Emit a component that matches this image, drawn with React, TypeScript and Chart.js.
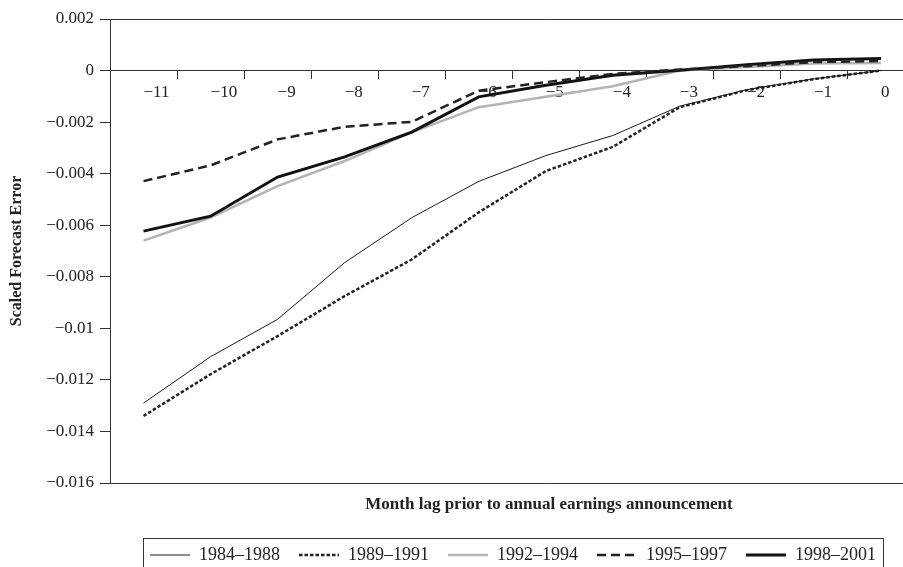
import React, { useEffect, useRef } from 'react';
import { Chart, registerables } from 'chart.js';

Chart.register(...registerables);

const months = [-11, -10, -9, -8, -7, -6, -5, -4, -3, -2, -1, 0];
const seriesLabels = ['1984–1988', '1989–1991', '1992–1994', '1995–1997', '1998–2001'];
const s1984 = [-0.0129, -0.0111, -0.00965, -0.00745, -0.00571, -0.0043, -0.0033, -0.00252, -0.00138, -0.00074, -0.00032, 0.0];
const s1989 = [-0.0134, -0.01178, -0.0103, -0.00875, -0.00733, -0.0055, -0.0039, -0.00296, -0.00142, -0.00076, -0.00033, 0.0];
const s1992 = [-0.0066, -0.0057, -0.00448, -0.00351, -0.0024, -0.00142, -0.00102, -0.00061, 0.0, 0.00014, 0.00027, 0.00029];
const s1995 = [-0.00429, -0.00368, -0.00267, -0.00218, -0.00199, -0.00078, -0.00045, -0.00013, 0.00004, 0.00017, 0.00033, 0.00037];
const s1998 = [-0.00623, -0.00565, -0.00413, -0.00335, -0.00239, -0.00102, -0.00057, -0.00018, 0.00001, 0.00023, 0.00041, 0.00047];
const yTickValues = [0.002, 0, -0.002, -0.004, -0.006, -0.008, -0.01, -0.012, -0.014, -0.016];
const yTitle = 'Scaled Forecast Error';
const xTitle = 'Month lag prior to annual earnings announcement';

const SERIF = "'Liberation Serif', 'DejaVu Serif', serif";
const INK = '#222';
const AXIS = '#333';

const fmt = (v: number) => (v === 0 ? '0' : (v < 0 ? '\u2212' : '') + String(Math.abs(v)));

const legendBorder = {
  id: 'legendBorder',
  afterDraw(chart: any) {
    const lg = chart.legend;
    if (!lg || !lg.legendHitBoxes || !lg.legendHitBoxes.length) return;
    const hb = lg.legendHitBoxes;
    const first = hb[0];
    const last = hb[hb.length - 1];
    const left = Math.round(first.left - 7) + 0.5;
    const right = Math.round(last.left + last.width + 7) + 0.5;
    const top = Math.round(first.top - 8) + 0.5;
    const bottom = Math.round(first.top + first.height + 8) + 0.5;
    const ctx = chart.ctx;
    ctx.save();
    ctx.strokeStyle = AXIS;
    ctx.lineWidth = 1;
    ctx.setLineDash([]);
    ctx.strokeRect(left, top, right - left, bottom - top);
    ctx.restore();
  },
};

export default function App() {
  const ref = useRef<HTMLCanvasElement>(null);

  useEffect(() => {
    const mk = (vals: number[]) => months.map((m, i) => ({ x: m, y: vals[i] }));
    const chart = new Chart(ref.current as HTMLCanvasElement, {
      type: 'line',
      data: {
        datasets: [
          { label: seriesLabels[0], data: mk(s1984), borderColor: '#1a1a1a', backgroundColor: '#1a1a1a', borderWidth: 1, order: 1 },
          { label: seriesLabels[1], data: mk(s1989), borderColor: '#222', backgroundColor: '#222', borderWidth: 2.5, borderDash: [3.5, 2], order: 2 },
          { label: seriesLabels[2], data: mk(s1992), borderColor: '#b3b3b3', backgroundColor: '#b3b3b3', borderWidth: 2.5, order: 5 },
          { label: seriesLabels[3], data: mk(s1995), borderColor: '#222', backgroundColor: '#222', borderWidth: 2.5, borderDash: [9, 5], order: 3 },
          { label: seriesLabels[4], data: mk(s1998), borderColor: '#111', backgroundColor: '#111', borderWidth: 3, order: 4 },
        ],
      },
      options: {
        animation: false,
        responsive: false,
        devicePixelRatio: 1,
        layout: { padding: { left: 38, top: 19, right: 0, bottom: 0 } },
        elements: { point: { radius: 0, hoverRadius: 0 }, line: { tension: 0 } },
        plugins: {
          tooltip: { enabled: false },
          legend: {
            position: 'bottom',
            labels: {
              usePointStyle: true,
              pointStyle: 'line',
              pointStyleWidth: 40,
              boxWidth: 40,
              padding: 19,
              color: INK,
              font: { family: SERIF, size: 18 },
              sort: (a: any, b: any) => a.datasetIndex - b.datasetIndex,
              generateLabels: (c: any) => {
                const items = (Chart as any).defaults.plugins.legend.labels.generateLabels(c);
                items.forEach((it: any) => {
                  const ds = c.data.datasets[it.datasetIndex];
                  it.lineDash = ds.borderDash || [];
                  it.lineWidth = ds.borderWidth;
                  it.strokeStyle = ds.borderColor;
                  it.fillStyle = ds.borderColor;
                  it.pointStyle = 'line';
                });
                return items;
              },
            },
          },
        },
        scales: {
          x: {
            type: 'linear',
            min: -11.5,
            max: 1.596,
            position: { y: 0 } as any,
            afterBuildTicks: (s: any) => {
              s.ticks = months.map((v) => ({ value: v }));
            },
            grid: { drawOnChartArea: false, drawTicks: true, tickLength: 8, offset: true, color: AXIS, tickColor: AXIS },
            border: { display: true, color: AXIS, width: 1 },
            ticks: {
              align: 'start',
              padding: 4,
              maxRotation: 0,
              autoSkip: false,
              color: INK,
              font: { family: SERIF, size: 17 },
              callback: (v: any) => fmt(Number(v)),
            },
          },
          xt: {
            type: 'linear',
            position: 'top',
            display: true,
            min: 0,
            max: 1,
            grid: { display: false, drawTicks: false },
            ticks: { display: false },
            border: { display: true, color: AXIS, width: 1 },
            afterFit: (s: any) => {
              s.height = 0;
            },
          },
          xb: {
            type: 'linear',
            position: 'bottom',
            display: true,
            min: 0,
            max: 1,
            grid: { display: false, drawTicks: false },
            ticks: { display: false },
            border: { display: true, color: AXIS, width: 1 },
            title: {
              display: true,
              text: xTitle,
              color: INK,
              font: { family: SERIF, size: 17, weight: 'bold' },
              padding: { top: 12, bottom: 12 },
            },
            afterFit: (s: any) => {
              s.height = 44;
            },
          },
          y: {
            type: 'linear',
            min: -0.016,
            max: 0.002,
            afterBuildTicks: (s: any) => {
              s.ticks = yTickValues.map((v) => ({ value: v }));
            },
            grid: { drawOnChartArea: false, drawTicks: true, tickLength: 10, color: AXIS, tickColor: AXIS },
            border: { display: true, color: AXIS, width: 1 },
            ticks: {
              padding: 6,
              color: INK,
              font: { family: SERIF, size: 17 },
              callback: (v: any) => fmt(Number(v)),
            },
            title: {
              display: true,
              text: yTitle,
              color: INK,
              font: { family: SERIF, size: 16, weight: 'bold' },
              padding: { top: -30.6, bottom: 0 },
            },
            afterFit: (s: any) => {
              s.width = 72;
            },
          },
        },
      },
      plugins: [legendBorder],
    } as any);
    return () => chart.destroy();
  }, []);

  return (
    <div style={{ position: 'fixed', left: 0, top: 0, width: 903, height: 567, overflow: 'hidden', background: '#fff' }}>
      <canvas ref={ref} width={988} height={574} style={{ display: 'block', width: 988, height: 574 }} />
    </div>
  );
}
